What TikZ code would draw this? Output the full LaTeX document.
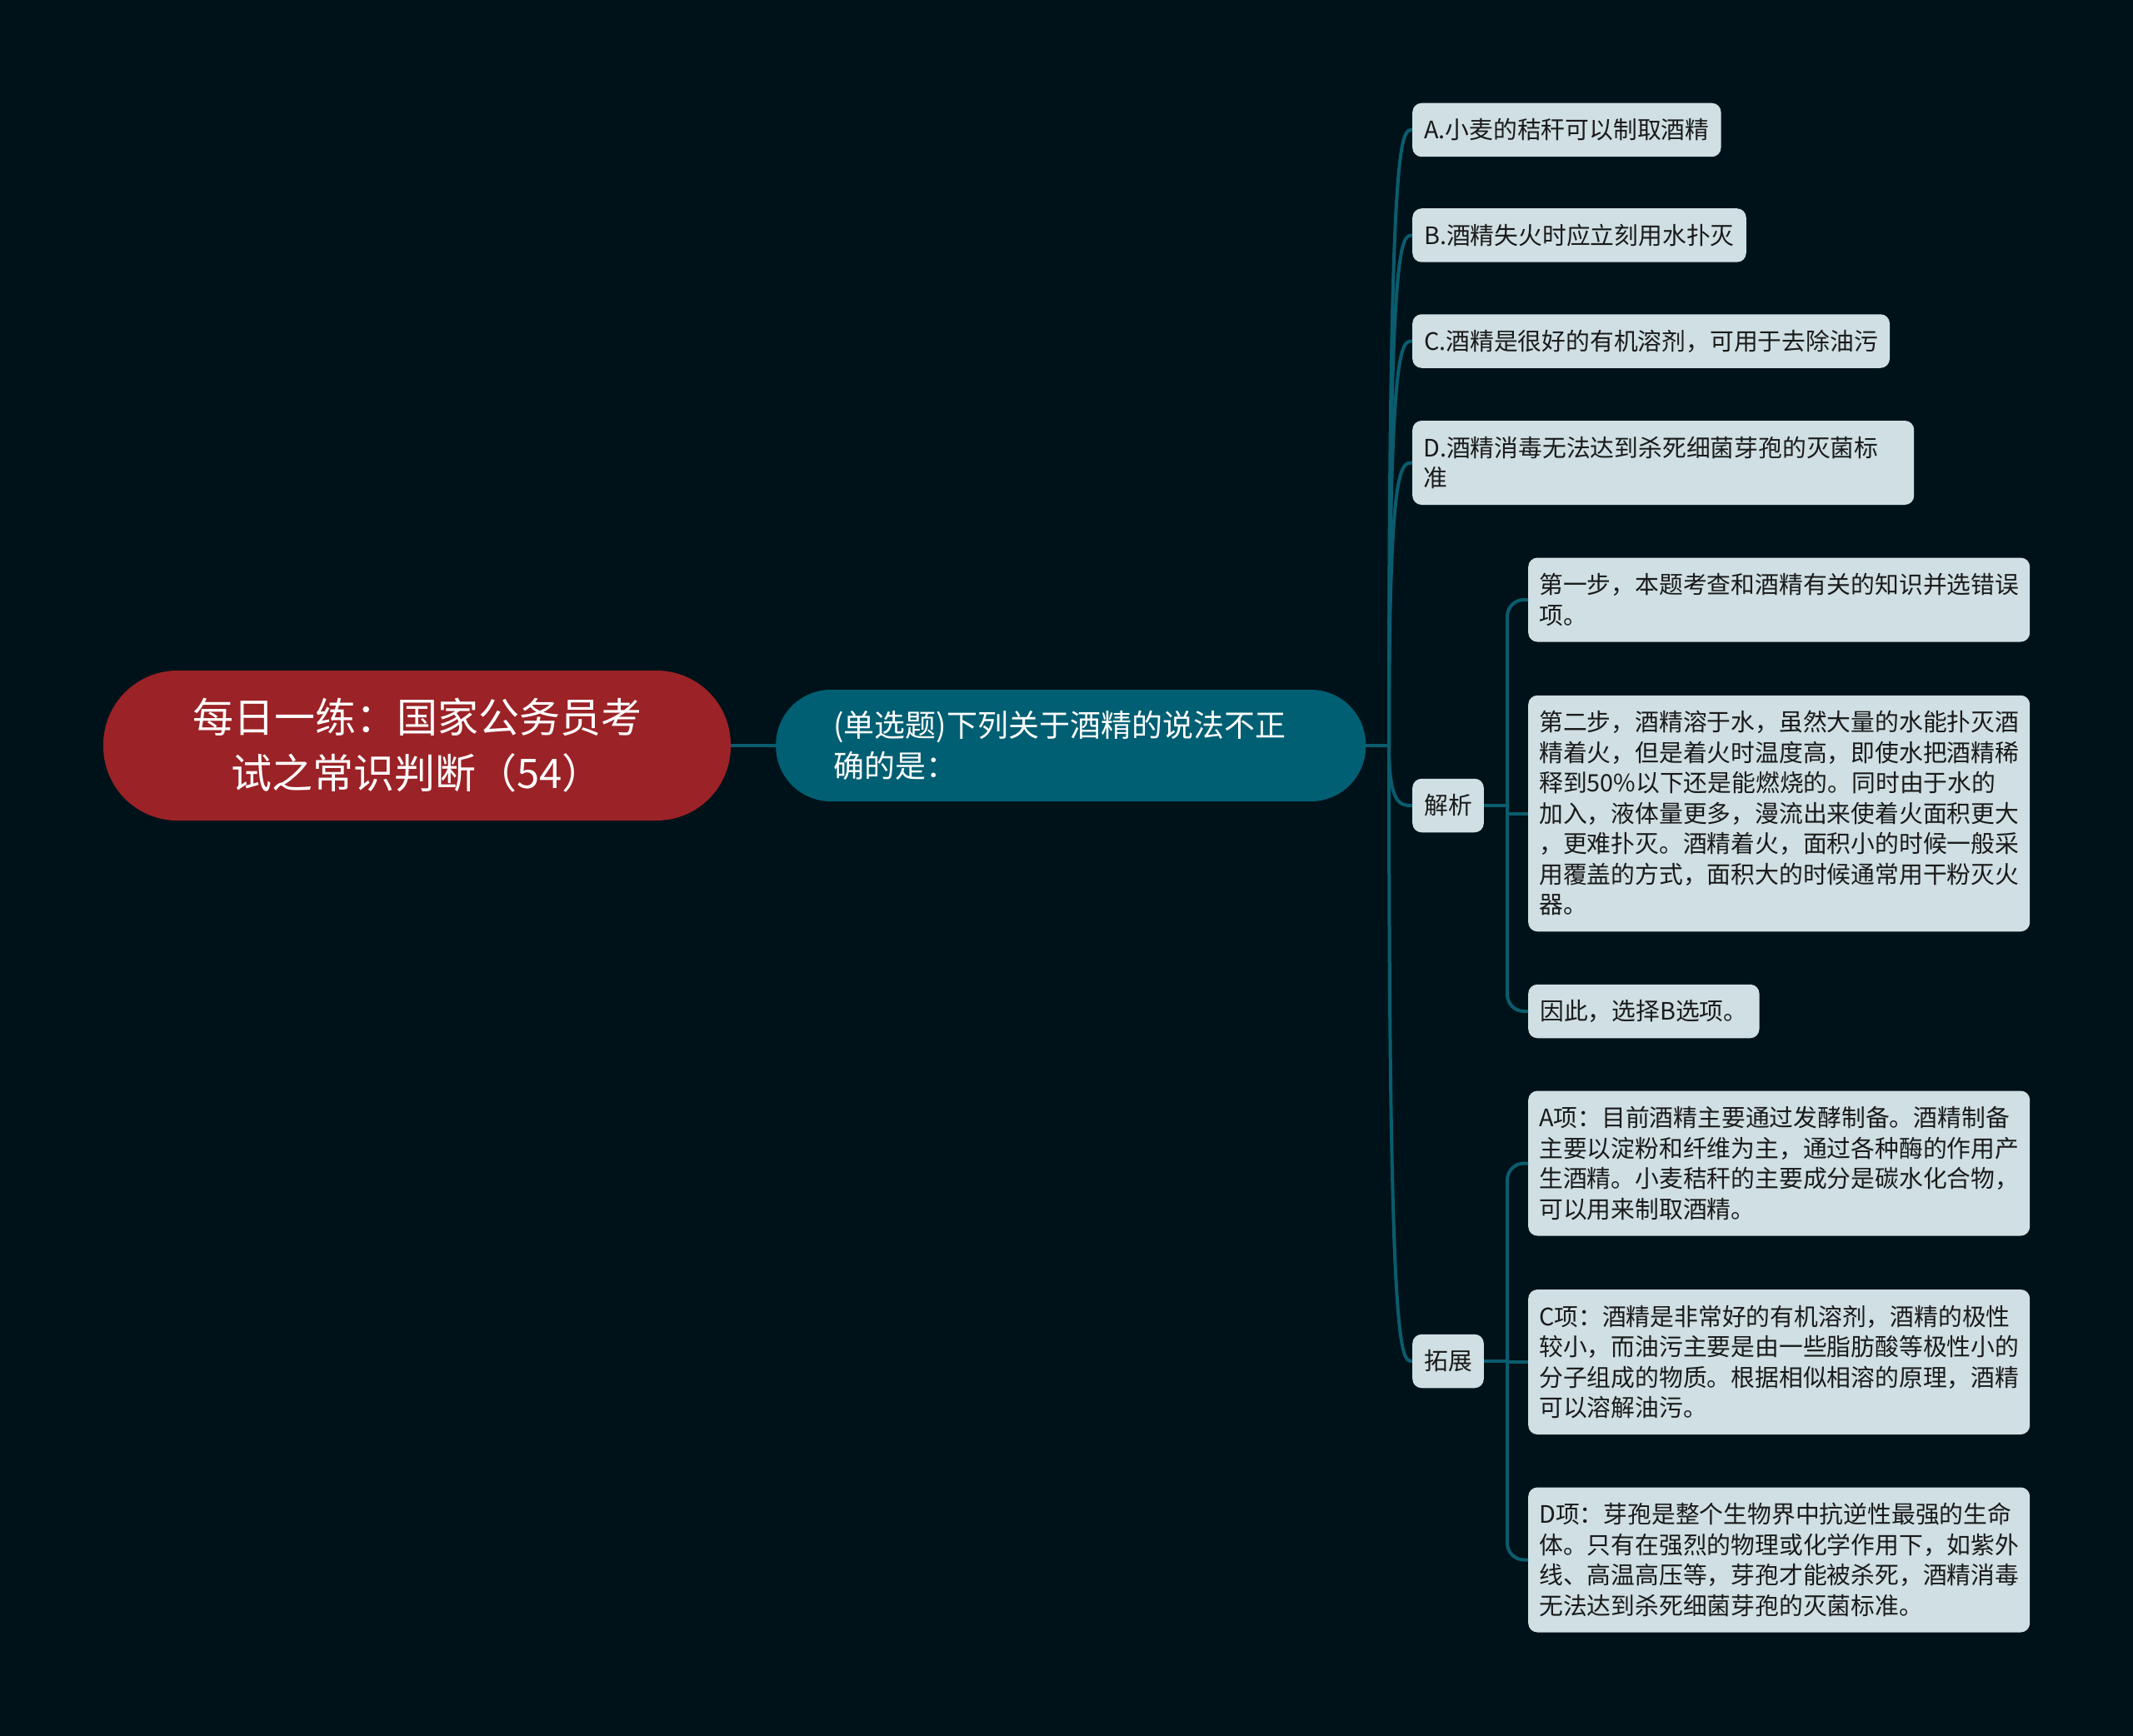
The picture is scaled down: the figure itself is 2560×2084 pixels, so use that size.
\documentclass[tikz,border=0pt]{standalone}
\usepackage{fontspec}
\setmainfont{Noto Sans CJK SC}
\definecolor{bgc}{HTML}{001219}
\definecolor{rootc}{HTML}{9B2226}
\definecolor{topicc}{HTML}{005F73}
\definecolor{leafc}{HTML}{CFDFE3}
\definecolor{linec}{HTML}{0A5C6E}
\definecolor{inkc}{HTML}{1A1A1A}
\newcommand\leafstrut{\rule[-7.5pt]{0pt}{36.5pt}}

\begin{document}
\begin{tikzpicture}[x=1pt,y=1pt]
				\tikzstyle{leaf}=[fill=leafc, text=inkc, rounded corners=11pt, anchor=west, inner xsep=14pt, inner ysep=14pt, align=left, font=\fontsize{28.8}{36.5}\selectfont, execute at begin node=\leafstrut, execute at end node=\leafstrut]
				\tikzstyle{wideleaf}=[leaf, text width=576pt, inner xsep=13pt]
				\tikzstyle{link}=[draw=linec, line width=4pt]
				\fill [bgc] (0,0) rectangle (2560,-2084);
				\useasboundingbox (0,0) rectangle (2560,-2084);
				\node [fill=rootc, text=white, minimum width=753pt, minimum height=180pt, rounded corners=89pt, inner sep=0pt, align=center, font=\fontsize{49}{67}\selectfont] (root) at (500.5,-895) {每日一练：国家公务员考\\试之常识判断（54）};
				\node [fill=topicc, text=white, anchor=west, text width=570pt, inner xsep=69pt, minimum height=134pt, rounded corners=66pt, align=left, font=\fontsize{37}{49}\selectfont] (quest) at (931,-895) {(单选题)下列关于酒精的说法不正\\确的是：};
				\coordinate (hub) at (1667,-895);
				\node [leaf] (optA) at (1695,-156) {A.小麦的秸秆可以制取酒精};
				\node [leaf] (optB) at (1695,-282.5) {B.酒精失火时应立刻用水扑灭};
				\node [leaf] (optC) at (1695,-409.5) {C.酒精是很好的有机溶剂，可用于去除油污};
				\node [wideleaf] (optD) at (1695,-555.5) {D.酒精消毒无法达到杀死细菌芽孢的灭菌标\\准};
				\node [leaf] (jiexi) at (1695,-967) {解析};
				\node [wideleaf] (stepA) at (1834,-720) {第一步，本题考查和酒精有关的知识并选错误\\项。};
				\node [wideleaf] (stepB) at (1834,-976.5) {第二步，酒精溶于水，虽然大量的水能扑灭酒\\精着火，但是着火时温度高，即使水把酒精稀\\释到50\%以下还是能燃烧的。同时由于水的\\加入，液体量更多，漫流出来使着火面积更大\\，更难扑灭。酒精着火，面积小的时候一般采\\用覆盖的方式，面积大的时候通常用干粉灭火\\器。};
				\node [leaf] (stepC) at (1834,-1214) {因此，选择B选项。};
				\node [leaf] (tuozhan) at (1695,-1634) {拓展};
				\node [wideleaf] (extA) at (1834,-1396.5) {A项：目前酒精主要通过发酵制备。酒精制备\\主要以淀粉和纤维为主，通过各种酶的作用产\\生酒精。小麦秸秆的主要成分是碳水化合物，\\可以用来制取酒精。};
				\node [wideleaf] (extC) at (1834,-1635) {C项：酒精是非常好的有机溶剂，酒精的极性\\较小，而油污主要是由一些脂肪酸等极性小的\\分子组成的物质。根据相似相溶的原理，酒精\\可以溶解油污。};
				\node [wideleaf] (extD) at (1834,-1872.5) {D项：芽孢是整个生物界中抗逆性最强的生命\\体。只有在强烈的物理或化学作用下，如紫外\\线、高温高压等，芽孢才能被杀死，酒精消毒\\无法达到杀死细菌芽孢的灭菌标准。};
				\draw [link] (root) -- (quest);
				\draw [link] (quest.east) -- (hub);
				\foreach \n in {optA,optB,optC,optD,jiexi,tuozhan}
					\draw [link] (hub) .. controls (hub |- \n.west) and ([xshift=-14pt]\n.west) .. (\n.west);
				\coordinate (jxb) at ([xshift=28pt]jiexi.east);
				\draw [link] (jiexi.east) -- (jxb);
				\draw [link, rounded corners=20pt] (jxb) |- (stepA.west);
				\draw [link] (jxb) |- (stepB.west);
				\draw [link, rounded corners=20pt] (jxb) |- (stepC.west);
				\coordinate (tzb) at ([xshift=28pt]tuozhan.east);
				\draw [link] (tuozhan.east) -- (tzb);
				\draw [link, rounded corners=20pt] (tzb) |- (extA.west);
				\draw [link] (tzb) |- (extC.west);
				\draw [link, rounded corners=20pt] (tzb) |- (extD.west);
\end{tikzpicture}
\end{document}
